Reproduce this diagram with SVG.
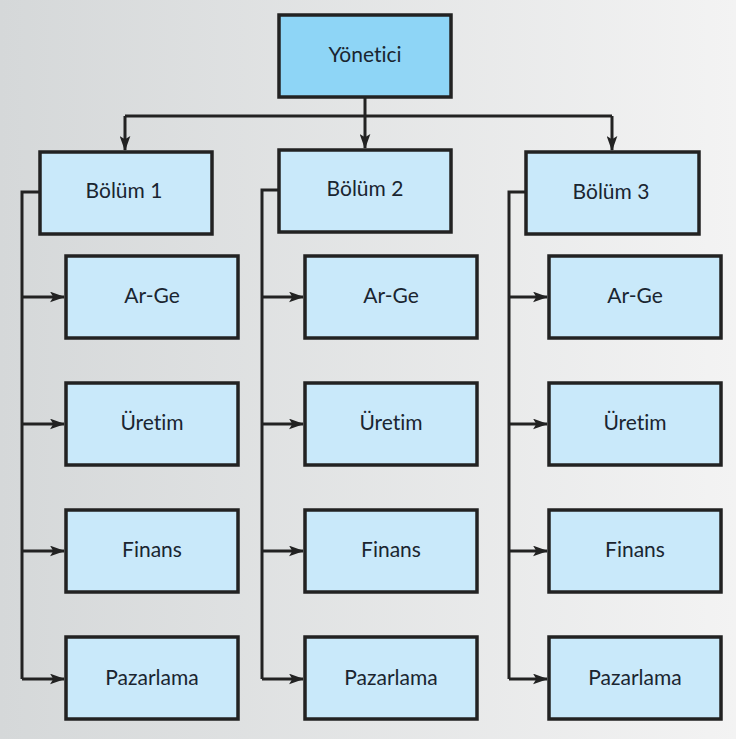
<svg xmlns="http://www.w3.org/2000/svg" width="736" height="739" viewBox="0 0 736 739">
<defs>
<linearGradient id="bg" x1="0" y1="0" x2="1" y2="0">
<stop offset="0" stop-color="#d5d8d9"/>
<stop offset="1" stop-color="#f3f3f3"/>
</linearGradient>
<marker id="arr" viewBox="0 0 14 10" refX="13" refY="5" markerWidth="15" markerHeight="11" markerUnits="userSpaceOnUse" orient="auto">
<path d="M0,0 L14,5 L0,10 L3,5 z" fill="#222"/>
</marker>
<style>
.box{fill:#c9e9fa;stroke:#222;stroke-width:3.5}
.top{fill:#8ed5f6;stroke:#222;stroke-width:3.5}
.t{font-family:Lato,"Open Sans","Liberation Sans",sans-serif;font-size:21px;fill:#1a2530;text-anchor:middle;font-variant-ligatures:none;font-feature-settings:"liga" 0}
.c{fill:none;stroke:#222;stroke-width:3}
.a{marker-end:url(#arr)}
</style>
</defs>
<rect x="0" y="0" width="736" height="739" fill="url(#bg)"/>
<g id="connectors">
<path class="c a" d="M365,97 V148"/>
<path class="c" d="M125,116 H612"/>
<path class="c a" d="M125,116 V150"/>
<path class="c a" d="M612,116 V150"/>
<path class="c" d="M40,192 H22 V679"/>
<path class="c a" d="M22,297 H64"/>
<path class="c a" d="M22,424 H64"/>
<path class="c a" d="M22,551 H64"/>
<path class="c a" d="M22,679 H64"/>
<path class="c" d="M278,190 H262 V679"/>
<path class="c a" d="M262,297 H303"/>
<path class="c a" d="M262,424 H303"/>
<path class="c a" d="M262,551 H303"/>
<path class="c a" d="M262,679 H303"/>
<path class="c" d="M525,192 H509 V679"/>
<path class="c a" d="M509,297 H547"/>
<path class="c a" d="M509,424 H547"/>
<path class="c a" d="M509,551 H547"/>
<path class="c a" d="M509,679 H547"/>
</g>
<g id="yonetici"><rect class="top" x="279" y="15" width="172" height="82"/><text class="t" x="365" y="62">Yönetici</text></g>
<g id="bolum1"><rect class="box" x="40" y="152" width="172" height="82"/><text class="t" x="124" y="198">Bölüm 1</text></g>
<g id="bolum2"><rect class="box" x="279" y="150" width="172" height="82"/><text class="t" x="365" y="196">Bölüm 2</text></g>
<g id="bolum3"><rect class="box" x="526" y="152" width="173" height="82"/><text class="t" x="611" y="199">Bölüm 3</text></g>
<g id="b1-arge"><rect class="box" x="66" y="256" width="172" height="82"/><text class="t" x="152" y="303">Ar-Ge</text></g>
<g id="b1-uretim"><rect class="box" x="66" y="383" width="172" height="82"/><text class="t" x="152" y="430">Üretim</text></g>
<g id="b1-finans"><rect class="box" x="66" y="510" width="172" height="82"/><text class="t" x="152" y="557">Finans</text></g>
<g id="b1-pazarlama"><rect class="box" x="66" y="637" width="172" height="82"/><text class="t" x="152" y="685">Pazarlama</text></g>
<g id="b2-arge"><rect class="box" x="305" y="256" width="172" height="82"/><text class="t" x="391" y="303">Ar-Ge</text></g>
<g id="b2-uretim"><rect class="box" x="305" y="383" width="172" height="82"/><text class="t" x="391" y="430">Üretim</text></g>
<g id="b2-finans"><rect class="box" x="305" y="510" width="172" height="82"/><text class="t" x="391" y="557">Finans</text></g>
<g id="b2-pazarlama"><rect class="box" x="305" y="637" width="172" height="82"/><text class="t" x="391" y="685">Pazarlama</text></g>
<g id="b3-arge"><rect class="box" x="549" y="256" width="172" height="82"/><text class="t" x="635" y="303">Ar-Ge</text></g>
<g id="b3-uretim"><rect class="box" x="549" y="383" width="172" height="82"/><text class="t" x="635" y="430">Üretim</text></g>
<g id="b3-finans"><rect class="box" x="549" y="510" width="172" height="82"/><text class="t" x="635" y="557">Finans</text></g>
<g id="b3-pazarlama"><rect class="box" x="549" y="637" width="172" height="82"/><text class="t" x="635" y="685">Pazarlama</text></g>
</svg>
